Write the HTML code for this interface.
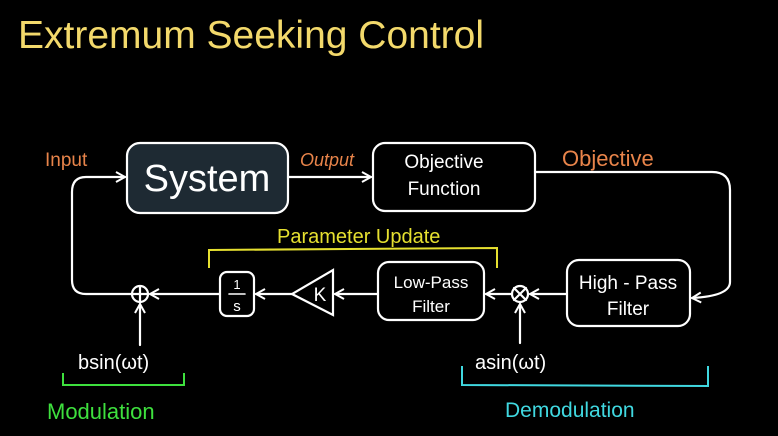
<!DOCTYPE html>
<html><head><meta charset="utf-8"><style>
html,body{margin:0;padding:0;background:#000;}
svg{display:block;}
text{font-family:"Liberation Sans",sans-serif;}
</style></head><body>
<svg width="778" height="436" viewBox="0 0 778 436" xmlns="http://www.w3.org/2000/svg">
<rect width="778" height="436" fill="#000"/>
<defs>
<marker id="a" markerWidth="12" markerHeight="12" refX="10" refY="6" orient="auto" markerUnits="userSpaceOnUse">
<path d="M1,1 L10,6 L1,11" fill="none" stroke="#fff" stroke-width="2"/>
</marker>
</defs>
<text x="18" y="48" font-size="39" fill="#f3d96b">Extremum Seeking Control</text>
<g fill="none" stroke="#fff" stroke-width="2.2" stroke-linecap="round">
<rect x="127" y="143" width="161" height="70" rx="13" fill="#1e2a33"/>
<rect x="373" y="143" width="162" height="68" rx="12"/>
<rect x="567" y="260" width="123" height="66" rx="12"/>
<rect x="378" y="262" width="106" height="58" rx="11"/>
<rect x="220" y="272" width="34" height="44" rx="7"/>
<path d="M333,270 L333,315 L292,294 Z"/>
<circle cx="520" cy="294" r="8"/>
<path d="M514,288 L526,300 M526,288 L514,300"/>
<circle cx="140" cy="294" r="8"/>
<path d="M140,286 L140,302 M132,294 L148,294"/>
<path d="M288,177 L371,177" marker-end="url(#a)"/>
<path d="M535,172 L712,172 Q730,172 730,190 L730,282 Q730,296 692,298" marker-end="url(#a)"/>
<path d="M567,294 L530,294" marker-end="url(#a)"/>
<path d="M512,294 L486,294" marker-end="url(#a)"/>
<path d="M378,294 L335,294" marker-end="url(#a)"/>
<path d="M292,294 L256,294" marker-end="url(#a)"/>
<path d="M220,294 L150,294" marker-end="url(#a)"/>
<path d="M132,294 L86,294 Q72,294 72,280 L72,192 Q72,177 86,177 L125,177" marker-end="url(#a)"/>
<path d="M140,345 L140,304" marker-end="url(#a)"/>
<path d="M520,343 L520,304" marker-end="url(#a)"/>
<path d="M229,294 L245,294" stroke-width="1.6"/>
</g>
<path d="M209,268 L209,250 L497,248 L497,268" fill="none" stroke="#e6e030" stroke-width="2"/>
<path d="M63,373 L63,385 L184,385 L184,373" fill="none" stroke="#3ee03e" stroke-width="2"/>
<path d="M462,366 L462,385 L708,386 L708,366" fill="none" stroke="#40d8e0" stroke-width="2"/>
<text x="207" y="191" font-size="38" fill="#fff" text-anchor="middle">System</text>
<text x="444" y="168" font-size="19" fill="#fff" text-anchor="middle">Objective</text>
<text x="444" y="195" font-size="19" fill="#fff" text-anchor="middle">Function</text>
<text x="628" y="289" font-size="19" fill="#fff" text-anchor="middle">High - Pass</text>
<text x="628" y="315" font-size="19" fill="#fff" text-anchor="middle">Filter</text>
<text x="431" y="288" font-size="17" fill="#fff" text-anchor="middle">Low-Pass</text>
<text x="431" y="312" font-size="17" fill="#fff" text-anchor="middle">Filter</text>
<text x="237" y="289" font-size="13" fill="#fff" text-anchor="middle">1</text>
<text x="237" y="311" font-size="15" fill="#fff" text-anchor="middle">s</text>
<text x="320" y="301" font-size="19" fill="#fff" text-anchor="middle">K</text>
<text x="45" y="166" font-size="19" fill="#e8844a">Input</text>
<text x="300" y="166" font-size="18" fill="#e8844a" font-style="italic">Output</text>
<text x="562" y="166" font-size="22" fill="#e8844a">Objective</text>
<text x="277" y="243" font-size="20" fill="#e6e030">Parameter  Update</text>
<text x="78" y="369" font-size="20" fill="#fff">bsin(ωt)</text>
<text x="475" y="369" font-size="20" fill="#fff">asin(ωt)</text>
<text x="47" y="419" font-size="22" fill="#3ee03e">Modulation</text>
<text x="505" y="417" font-size="21" fill="#40d8e0">Demodulation</text>
</svg>
</body></html>
